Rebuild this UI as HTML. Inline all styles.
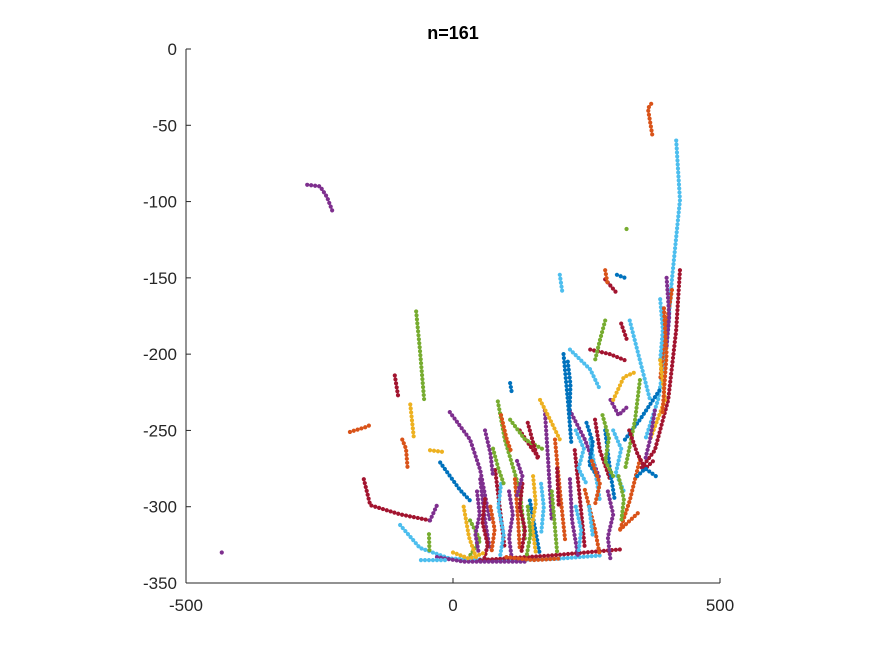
<!DOCTYPE html>
<html><head><meta charset="utf-8"><style>
body{margin:0;background:#fff;}
svg{display:block;font-family:"Liberation Sans",sans-serif;}
</style></head><body>
<svg id="chart" width="875" height="656">
<text x="453" y="39" text-anchor="middle" font-size="18" font-weight="bold" fill="#000">n=161</text>
<g id="plot"></g>
<g id="axes"></g>
</svg>
<script>
const xTicks=[-500,0,500];
const yTicks=[0,-50,-100,-150,-200,-250,-300,-350];
const palette=["#0072BD","#D95319","#EDB120","#7E2F8E","#77AC30","#4DBEEE","#A2142F"];
const trackColor=[3,3,1,5,6,1,4,1,6,6,2,2,5,6,3,4,0,0,3,6,5,4,0,6,1,1,5,0,3,
 6,1,0,3,1,6,4,0,6,3,5,6,0,1,4,2,3,5,2,3,4,2,
 3,6,1,5,3,6,2,5,4,4,6,5,0,4,5,1,3,4,6,0,5,5,3,2,1,5,4,3,1,6,4,3,0,3,2,5,1,6,4,3,1,1];
const trackPts=[
[[-273,-89],[-249,-90],[-236,-97],[-225,-107]],
[[-433,-330],[-432,-331]],
[[373,-56],[365,-39],[373,-35]],
[[418,-60],[425,-99],[410,-151],[399,-197],[384,-230],[360,-256]],
[[425,-145],[418,-184],[403,-230],[378,-263],[350,-276]],
[[410,-158],[395,-191],[388,-217]],
[[-69,-172],[-62,-197],[-54,-230]],
[[-193,-251],[-165,-248],[-152,-246]],
[[-167,-282],[-155,-299],[-99,-305],[-43,-309]],
[[-109,-214],[-103,-227]],
[[-80,-233],[-73,-256]],
[[-43,-263],[-20,-264]],
[[-99,-312],[-62,-327],[-6,-334],[100,-335],[200,-334],[275,-332]],
[[51,-335],[182,-332],[313,-328]],
[[-6,-238],[32,-256],[51,-276],[69,-309]],
[[84,-231],[97,-256],[125,-289],[135,-322]],
[[-24,-271],[13,-289],[32,-296]],
[[207,-200],[215,-230],[222,-260]],
[[219,-237],[247,-256],[275,-282]],
[[257,-197],[294,-200],[322,-204]],
[[219,-197],[257,-210],[275,-223]],
[[285,-178],[275,-191],[266,-204]],
[[307,-148],[322,-150]],
[[285,-151],[309,-161]],
[[350,-269],[331,-296],[313,-315]],
[[313,-315],[350,-303]],
[[331,-178],[350,-204],[369,-230]],
[[322,-256],[350,-243],[388,-223]],
[[51,-282],[60,-309],[69,-328]],
[[79,-276],[88,-302],[97,-328]],
[[116,-282],[122,-309],[125,-328]],
[[144,-296],[154,-315],[163,-332]],
[[172,-237],[178,-269],[185,-309]],
[[191,-256],[200,-289],[210,-322]],
[[125,-250],[144,-260],[163,-269]],
[[107,-243],[135,-256],[172,-263]],
[[107,-219],[110,-225]],
[[228,-263],[238,-296],[247,-328]],
[[219,-282],[223,-309],[234,-332]],
[[257,-256],[266,-276],[275,-296]],
[[266,-243],[275,-263],[294,-282]],
[[285,-250],[294,-276],[303,-296]],
[[247,-289],[266,-315],[275,-332]],
[[32,-309],[51,-322],[32,-332]],
[[163,-230],[182,-243],[200,-256]],
[[-43,-309],[-30,-299]],
[[388,-164],[393,-184],[388,-204]],
[[388,-204],[397,-230],[369,-256]],
[[378,-237],[369,-256],[360,-269]],
[[350,-217],[341,-243],[322,-276]],
[[20,-300],[30,-320],[45,-335]],
[[45,-290],[50,-305],[42,-318],[48,-330]],
[[60,-295],[55,-310],[65,-325],[58,-335]],
[[70,-300],[78,-315],[72,-330]],
[[90,-285],[85,-300],[95,-318],[88,-333]],
[[105,-290],[112,-305],[105,-320],[110,-334]],
[[130,-285],[125,-300],[135,-315],[128,-330]],
[[150,-280],[155,-298],[148,-312],[155,-330]],
[[165,-285],[170,-300],[165,-318]],
[[140,-300],[145,-318],[138,-332]],
[[185,-290],[190,-310],[195,-330]],
[[195,-275],[198,-300]],
[[230,-250],[245,-262],[235,-275],[250,-285]],
[[250,-245],[262,-258],[255,-272],[270,-280]],
[[280,-240],[292,-255],[285,-270],[300,-280]],
[[300,-250],[315,-262],[305,-278],[320,-290]],
[[260,-270],[275,-285],[265,-300]],
[[290,-290],[300,-305],[290,-320],[295,-335]],
[[310,-280],[320,-295],[315,-310]],
[[330,-250],[345,-265],[360,-275],[375,-270]],
[[345,-280],[360,-275],[380,-280]],
[[230,-300],[240,-315],[235,-330]],
[[255,-300],[262,-320]],
[[-30,-333],[20,-336],[80,-336],[140,-336]],
[[0,-330],[30,-334],[60,-330]],
[[100,-333],[150,-335],[200,-334]],
[[-60,-335],[-10,-335]],
[[-45,-318],[-44,-330]],
[[60,-250],[70,-265],[75,-280]],
[[90,-240],[100,-255],[110,-265]],
[[140,-245],[150,-258],[160,-270]],
[[75,-262],[85,-275],[95,-285]],
[[120,-270],[130,-280],[118,-295]],
[[215,-205],[220,-220],[218,-240]],
[[295,-230],[310,-240],[325,-235]],
[[300,-230],[320,-215],[340,-212]],
[[200,-148],[205,-160]],
[[285,-145],[290,-155]],
[[315,-180],[325,-190]],
[[325,-118],[326,-119]],
[[400,-150],[405,-175],[400,-195]],
[[395,-170],[400,-200],[392,-240]],
[[-95,-256],[-88,-262],[-85,-275]]
];
const ns="http://www.w3.org/2000/svg";
const X0=186,X1=720,Y0=49,Y1=583;
function sx(v){return X0+(v+500)/1000*(X1-X0);}
function sy(v){return Y0+(0-v)/350*(Y1-Y0);}
const plot=document.getElementById('plot');
const axes=document.getElementById('axes');
trackPts.forEach((pts,i)=>{
  const pl=document.createElementNS(ns,'polyline');
  pl.setAttribute('points',pts.map(p=>sx(p[0])+','+sy(p[1])).join(' '));
  pl.setAttribute('fill','none');
  pl.setAttribute('stroke',palette[trackColor[i]%7]);
  pl.setAttribute('stroke-width','4.2');
  pl.setAttribute('stroke-linecap','round');
  pl.setAttribute('stroke-dasharray','0 4');
  
  
  plot.appendChild(pl);
});
function line(x1,y1,x2,y2){const l=document.createElementNS(ns,'line');
 l.setAttribute('x1',x1);l.setAttribute('y1',y1);l.setAttribute('x2',x2);l.setAttribute('y2',y2);
 l.setAttribute('stroke','#262626');l.setAttribute('stroke-width','1');return l;}
const xa=line(X0,Y1,X1,Y1);


axes.appendChild(xa);
const ya=line(X0,Y0,X0,Y1);


axes.appendChild(ya);
xTicks.forEach(t=>{
  const tk=line(sx(t),Y1,sx(t),Y1-5);
  
  
  axes.appendChild(tk);
  const tx=document.createElementNS(ns,'text');
  tx.setAttribute('x',sx(t));tx.setAttribute('y',Y1+28);
  tx.setAttribute('text-anchor','middle');tx.setAttribute('font-size','17');tx.setAttribute('fill','#262626');
  tx.textContent=t;
  
  
  axes.appendChild(tx);
});
yTicks.forEach(t=>{
  const tk=line(X0,sy(t),X0+5,sy(t));
  
  
  axes.appendChild(tk);
  const tx=document.createElementNS(ns,'text');
  tx.setAttribute('x',X0-9);tx.setAttribute('y',sy(t)+6);
  tx.setAttribute('text-anchor','end');tx.setAttribute('font-size','17');tx.setAttribute('fill','#262626');
  tx.textContent=t;
  
  
  axes.appendChild(tx);
});
</script>
</body></html>
